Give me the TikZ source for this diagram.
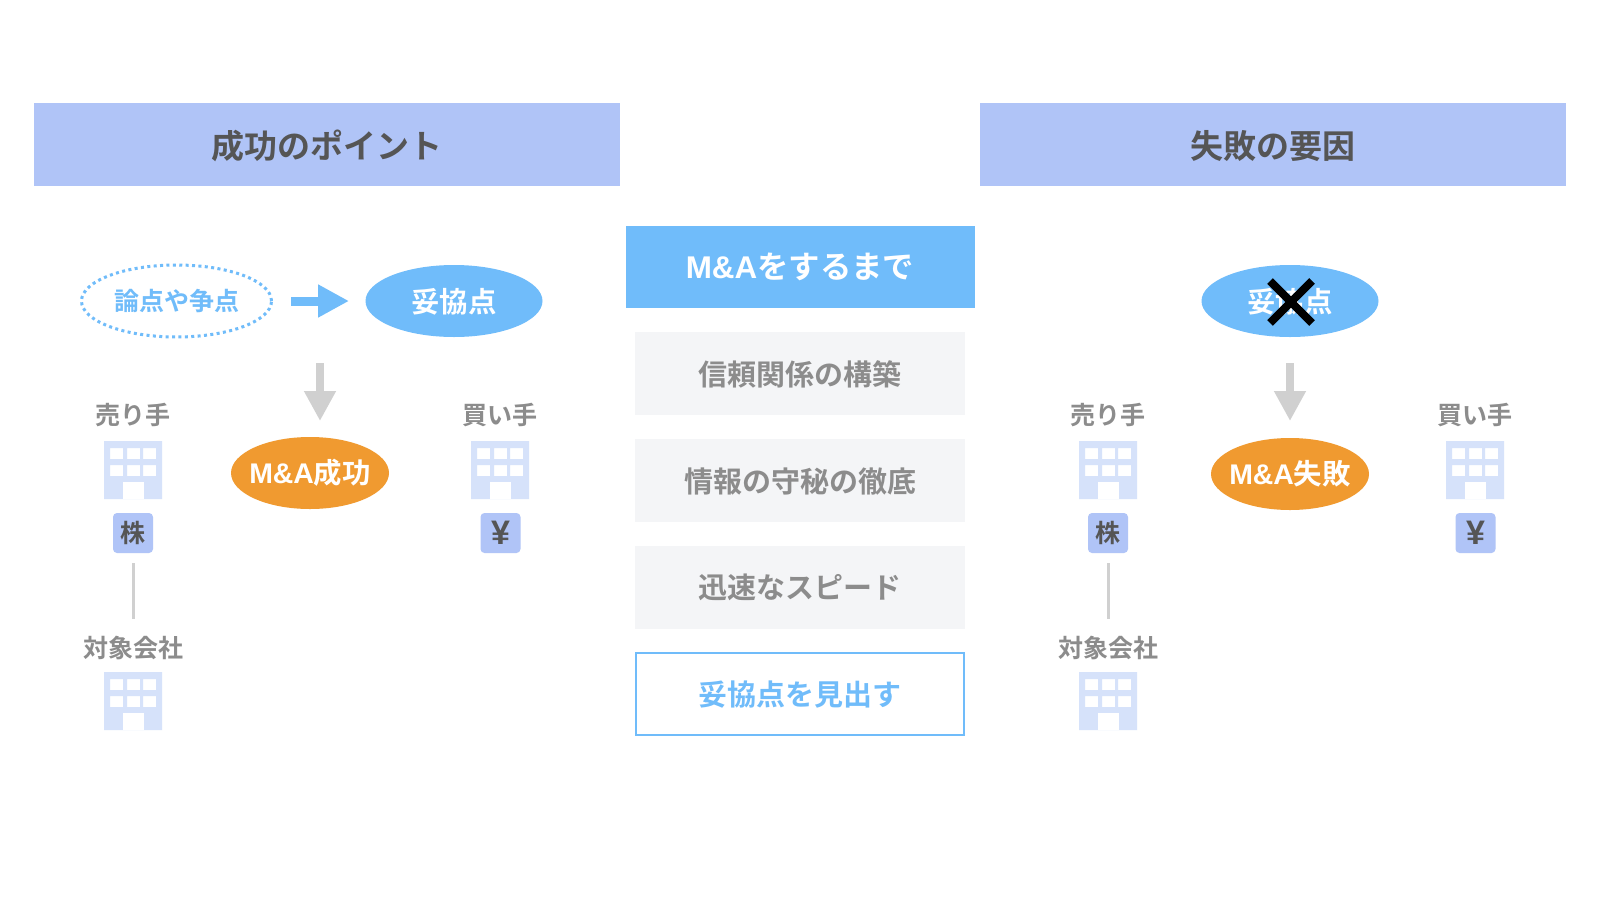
\documentclass[tikz,border=0pt]{standalone}
\usepackage{fontspec}
\setmainfont{Noto Sans CJK JP}[BoldFont={Noto Sans CJK JP Bold}]
\newfontfamily\latfont{Liberation Sans}
\newcommand{\maname}{{\latfont M\&A}}
\usetikzlibrary{arrows.meta,shapes.geometric}
\definecolor{hdr}{HTML}{B0C4F7}
\definecolor{sky}{HTML}{70BCFA}
\definecolor{org}{HTML}{F09A30}
\definecolor{itembg}{HTML}{F4F5F7}
\definecolor{gtxt}{HTML}{8C8C8C}
\definecolor{dtxt}{HTML}{555555}
\definecolor{bld}{HTML}{D6E2FA}
\definecolor{gline}{HTML}{D0D0D0}
\tikzset{
  base/.style={inner sep=0pt,outer sep=0pt,font=\bfseries,align=center},
  hdrbox/.style={base,rectangle,fill=hdr,text=dtxt,minimum width=293pt,minimum height=41.5pt,text height=15.7pt,text depth=1.8pt,font=\fontsize{16.5}{18}\bfseries},
  midhdr/.style={base,rectangle,fill=sky,text=white,minimum width=174.5pt,minimum height=41pt,font=\fontsize{15.7}{18}\bfseries},
  itembox/.style={base,rectangle,fill=itembg,text=gtxt,minimum width=165pt,minimum height=41.5pt,text height=13.7pt,text depth=1.8pt,font=\fontsize{14.5}{18}\bfseries},
  keybox/.style={base,rectangle,fill=white,draw=sky,line width=1pt,text=sky,minimum width=164pt,minimum height=41pt,text height=13.7pt,text depth=1.8pt,font=\fontsize{14.5}{18}\bfseries},
  skyell/.style={base,ellipse,fill=sky,text=white,minimum width=88.5pt,minimum height=36pt,text height=13.2pt,text depth=1.7pt,font=\fontsize{14.2}{16}\bfseries},
  orgell/.style={base,ellipse,inner sep=-8pt,fill=org,text=white,minimum width=79pt,minimum height=36pt,font=\fontsize{14.2}{16}\bfseries},
  dotell/.style={base,ellipse,draw=sky,line width=1.5pt,dash pattern=on 1.5pt off 1.7pt,text=sky,minimum width=95pt,minimum height=36pt,font=\fontsize{12.5}{14}\bfseries},
  lbl/.style={base,text=gtxt,font=\fontsize{12.5}{14}\bfseries},
  tag/.style={base,rectangle,rounded corners=2pt,fill=hdr,text=dtxt,minimum size=20pt,font=\fontsize{12.5}{14}\bfseries},
  yentag/.style={tag,font=\fontsize{17}{18}\bfseries\latfont},
  blockb/.style={line width=4.5pt,draw=sky,-{Triangle[length=15.5pt,width=15.5pt,fill=sky]}},
  blockg/.style={line width=4pt,draw=gline,-{Triangle[length=15pt,width=15pt,fill=gline]}},
  link/.style={draw=gline,line width=1.5pt},
  cross/.style={draw=black,line width=4pt},
  bldg/.pic={
    \fill[bld,even odd rule] (-29,0) rectangle (29,58)
      (-23,7) rectangle (-10,18) (-6,7) rectangle (7,18) (10,7) rectangle (23,18)
      (-23,24) rectangle (-10,35) (-6,24) rectangle (7,35) (10,24) rectangle (23,35);
    \fill[white] (-10.5,41) rectangle (10.5,58);
  }
}
\begin{document}
\begin{tikzpicture}[x=0.5pt,y=-0.5pt]
\useasboundingbox[fill=white] (0,0) rectangle (1600,900);
% headers
\node[hdrbox] (hL) at (327,144.5) {成功のポイント};
\node[hdrbox] (hR) at (1273,144.5) {失敗の要因};
% centre column
\node[midhdr] (mid) at (800,267) {\maname をするまで};
\node[itembox] (i1) at (800,373.5) {信頼関係の構築};
\node[itembox] (i2) at (800,480.5) {情報の守秘の徹底};
\node[itembox] (i3) at (800,587) {迅速なスピード};
\node[keybox] (i4) at (800,694) {妥協点を見出す};
% left side
\node[dotell] (ron) at (176.5,301) {論点や争点};
\node[skyell] (daL) at (454,301) {妥協点};
\coordinate (a1s) at (291,301);
\coordinate (a1e) at (349,301);
\draw[blockb] (a1s) -- (a1e);
\coordinate (a2s) at (320,363);
\coordinate (a2e) at (320,421);
\draw[blockg] (a2s) -- (a2e);
\node[orgell] (okL) at (310,473) {\maname 成功};
\node[lbl] (sL) at (133,415) {売り手};
\node[lbl] (bL) at (500,415) {買い手};
\pic at (133,441) {bldg};
\pic at (500,441) {bldg};
\node[tag] (kL) at (133,533) {株};
\node[yentag] (yL) at (500.5,533) {¥};
\node[lbl] (tL) at (133,648) {対象会社};
\coordinate (l1s) at (133,563);
\coordinate (l1e) at (133,619);
\draw[link] (l1s) -- (l1e);
\pic at (133,672) {bldg};
% right side
\node[skyell] (daR) at (1290,301) {妥協点};
\coordinate (x1) at (1270,281);
\coordinate (x2) at (1312,323);
\coordinate (x3) at (1312,281);
\coordinate (x4) at (1270,323);
\draw[cross] (x1) -- (x2);
\draw[cross] (x3) -- (x4);
\coordinate (a3s) at (1290,363);
\coordinate (a3e) at (1290,421);
\draw[blockg] (a3s) -- (a3e);
\node[orgell] (ngR) at (1290,474) {\maname 失敗};
\node[lbl] (sR) at (1108,415) {売り手};
\node[lbl] (bR) at (1475,415) {買い手};
\pic at (1108,441) {bldg};
\pic at (1475,441) {bldg};
\node[tag] (kR) at (1108,533) {株};
\node[yentag] (yR) at (1475.5,533) {¥};
\node[lbl] (tR) at (1108,648) {対象会社};
\coordinate (l2s) at (1108,563);
\coordinate (l2e) at (1108,619);
\draw[link] (l2s) -- (l2e);
\pic at (1108,672) {bldg};
\end{tikzpicture}
\end{document}
